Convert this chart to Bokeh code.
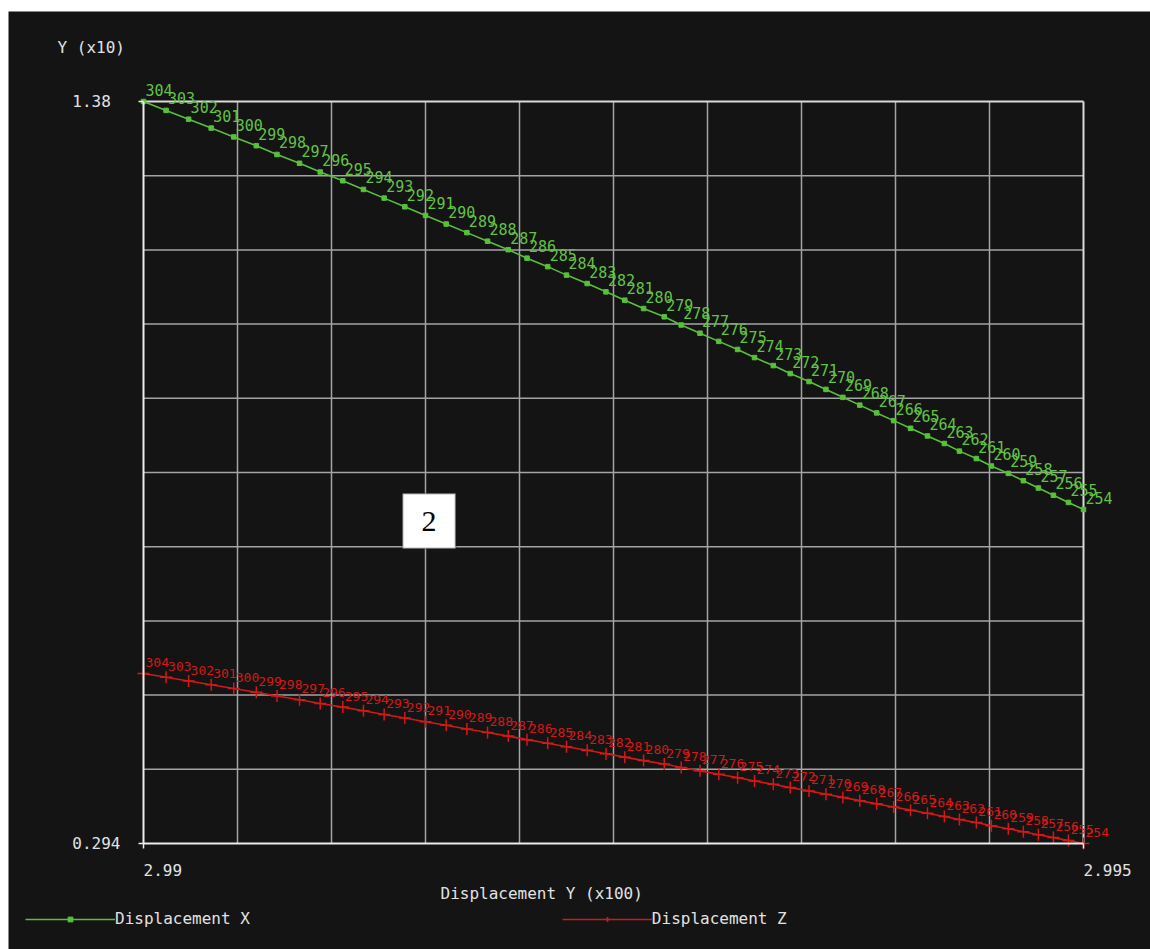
from bokeh.plotting import figure
from bokeh.models import (Range1d, FixedTicker, ColumnDataSource, Label, Legend,
                          LegendItem, BoxAnnotation, Spacer)
from bokeh.layouts import column, row
from bokeh.core.properties import value
from bokeh.embed import file_html
from bokeh.resources import INLINE

# ---------------- data ----------------
disp_y = [2.99000, 2.99012, 2.99024, 2.99036, 2.99048, 2.99060, 2.99071, 2.99083, 2.99094,
          2.99106, 2.99117, 2.99128, 2.99139, 2.99150, 2.99161, 2.99172, 2.99183, 2.99194,
          2.99204, 2.99215, 2.99225, 2.99236, 2.99246, 2.99256, 2.99266, 2.99277, 2.99286,
          2.99296, 2.99306, 2.99316, 2.99325, 2.99335, 2.99344, 2.99354, 2.99363, 2.99372,
          2.99381, 2.99390, 2.99399, 2.99408, 2.99417, 2.99426, 2.99434, 2.99443, 2.99451,
          2.99460, 2.99468, 2.99476, 2.99484, 2.99492, 2.99500]

disp_x = [1.3800, 1.3670, 1.3541, 1.3411, 1.3282, 1.3153, 1.3025, 1.2896, 1.2768, 1.2640,
          1.2513, 1.2386, 1.2259, 1.2133, 1.2007, 1.1881, 1.1756, 1.1631, 1.1507, 1.1383,
          1.1259, 1.1136, 1.1014, 1.0892, 1.0770, 1.0649, 1.0529, 1.0409, 1.0289, 1.0171,
          1.0052, 0.9935, 0.9818, 0.9701, 0.9586, 0.9470, 0.9356, 0.9242, 0.9129, 0.9017,
          0.8905, 0.8794, 0.8683, 0.8574, 0.8465, 0.8357, 0.8250, 0.8143, 0.8037, 0.7932,
          0.7828]

disp_z = [0.5428, 0.5373, 0.5318, 0.5263, 0.5208, 0.5153, 0.5099, 0.5044, 0.4990, 0.4936,
          0.4883, 0.4829, 0.4776, 0.4723, 0.4670, 0.4617, 0.4565, 0.4512, 0.4460, 0.4408,
          0.4357, 0.4306, 0.4254, 0.4204, 0.4153, 0.4103, 0.4053, 0.4003, 0.3953, 0.3904,
          0.3855, 0.3806, 0.3758, 0.3710, 0.3662, 0.3615, 0.3567, 0.3520, 0.3474, 0.3428,
          0.3382, 0.3336, 0.3291, 0.3246, 0.3201, 0.3156, 0.3113, 0.3069, 0.3026, 0.2983,
          0.2940]

point_labels = ["304", "303", "302", "301", "300", "299", "298", "297", "296", "295",
                "294", "293", "292", "291", "290", "289", "288", "287", "286", "285",
                "284", "283", "282", "281", "280", "279", "278", "277", "276", "275",
                "274", "273", "272", "271", "270", "269", "268", "267", "266", "265",
                "264", "263", "262", "261", "260", "259", "258", "257", "256", "255",
                "254"]

x_min, x_max = 2.99, 2.995
y_min, y_max = 0.294, 1.38
x_tick_vals = [2.99, 2.995]
x_tick_text = ["2.99", "2.995"]
y_tick_vals = [0.294, 1.38]
y_tick_text = ["0.294", "1.38"]
x_grid_vals = [2.9905, 2.9910, 2.9915, 2.9920, 2.9925, 2.9930, 2.9935, 2.9940, 2.9945]
y_grid_vals = [0.4026, 0.5112, 0.6198, 0.7284, 0.8370, 0.9456, 1.0542, 1.1628, 1.2714]

series_names = ["Displacement X", "Displacement Z"]
x_title = "Displacement Y (x100)"
y_title = "Y (x10)"
note_text = "2"

# ---------------- styling ----------------
BG = "#141414"
FG = "#e2e2e2"
GRID = "#a4a4a4"
EDGE = "#dadada"
GREEN = "#58c03a"
GREEN_TXT = "#62c244"
RED = "#d41818"
MONO = "DejaVu Sans Mono"
NB = "\u00a0"

source = ColumnDataSource(dict(x=disp_y, gx=disp_x, rz=disp_z, lab=point_labels))

# The frame covers the whole canvas; the plotting box (2.99..2.995, 0.294..1.38)
# sits inside it, with axes pinned at its left and bottom edges.
p = figure(width=1142, height=938, output_backend="svg", toolbar_location=None,
           x_range=Range1d(2.98928191, 2.99535638), y_range=Range1d(0.138848, 1.511733),
           min_border_left=0, min_border_right=0, min_border_top=0, min_border_bottom=0)

p.background_fill_color = BG
p.border_fill_color = BG
p.outline_line_color = None
p.xgrid.visible = False
p.ygrid.visible = False

# grid lines limited to the plotting box (built from the grid tick lists)
vgrid = ColumnDataSource(dict(x=x_grid_vals, y0=[y_min] * len(x_grid_vals),
                              y1=[y_max] * len(x_grid_vals)))
hgrid = ColumnDataSource(dict(y=y_grid_vals, x0=[x_min] * len(y_grid_vals),
                              x1=[x_max] * len(y_grid_vals)))
p.segment(x0="x", x1="x", y0="y0", y1="y1", source=vgrid, line_color=GRID,
          line_width=1.5, level="underlay")
p.segment(x0="x0", x1="x1", y0="y", y1="y", source=hgrid, line_color=GRID,
          line_width=1.5, level="underlay")
# top and right edges of the box
edges = ColumnDataSource(dict(x0=[x_min, x_max], x1=[x_max, x_max],
                              y0=[y_max, y_min], y1=[y_max, y_max]))
p.segment(x0="x0", x1="x1", y0="y0", y1="y1", source=edges, line_color=EDGE,
          line_width=2, level="underlay")

# axes, pinned at the box edges
p.xaxis.fixed_location = y_min
p.yaxis.fixed_location = x_min
p.xaxis.ticker = FixedTicker(ticks=x_tick_vals)
p.xaxis.bounds = (x_min, x_max)
p.xaxis.major_label_overrides = {v: NB * len(t) + t for v, t in zip(x_tick_vals, x_tick_text)}
p.yaxis.ticker = FixedTicker(ticks=y_tick_vals)
p.yaxis.bounds = (y_min, y_max)
p.yaxis.major_label_overrides = {v: t + NB * (5 - len(t)) for v, t in zip(y_tick_vals, y_tick_text)}
for ax in (p.xaxis, p.yaxis):
    ax.axis_line_color = "#ececec"
    ax.axis_line_width = 2
    ax.major_tick_line_color = "#ececec"
    ax.major_tick_line_width = 1.5
    ax.major_tick_out = 5
    ax.major_tick_in = 0
    ax.minor_tick_line_color = None
    ax.major_label_text_color = FG
    ax.major_label_text_font = MONO
    ax.major_label_text_font_size = "16px"
p.xaxis.major_label_standoff = 13
p.yaxis.major_label_standoff = 18

# series
g_line = p.line("x", "gx", source=source, line_color=GREEN, line_width=1.6)
g_pts = p.scatter("x", "gx", source=source, marker="square", size=4.5,
                  fill_color=GREEN, line_color=GREEN)
r_line = p.line("x", "rz", source=source, line_color=RED, line_width=1.6)
r_pts = p.scatter("x", "rz", source=source, marker="cross", size=12,
                  line_color=RED, line_width=1.5)

p.text("x", "gx", text="lab", source=source, x_offset=2, y_offset=-12,
       text_color=GREEN_TXT, text_font=value(MONO), text_font_size="15px",
       text_align="left", text_baseline="alphabetic")
p.text("x", "rz", text="lab", source=source, x_offset=2, y_offset=-11,
       text_color=RED, text_font=value(MONO), text_font_size="13px",
       text_align="left", text_baseline="alphabetic")

# axis captions (screen units from the bottom-left of the canvas)
p.add_layout(Label(x=49, y=902, x_units="screen", y_units="screen", text=y_title,
                   text_color=FG, text_font=MONO, text_font_size="16px",
                   text_baseline="middle"))
p.add_layout(Label(x=432, y=56, x_units="screen", y_units="screen", text=x_title,
                   text_color=FG, text_font=MONO, text_font_size="16px",
                   text_baseline="middle"))

# white note box with "2"
p.add_layout(BoxAnnotation(left=2.991378, right=2.991660, bottom=0.72572, top=0.80623,
                           fill_color="white", fill_alpha=1.0, line_color=BG,
                           line_width=2, level="overlay"))
p.add_layout(Label(x=2.991519, y=0.76598, text=note_text, text_color="black",
                   text_font="Liberation Serif", text_font_size="30px",
                   text_align="center", text_baseline="middle", level="overlay"))

# legend at the bottom
legend = Legend(items=[LegendItem(label=series_names[0], renderers=[g_line, g_pts]),
                       LegendItem(label=series_names[1], renderers=[r_line, r_pts])],
                location=(17, 21), orientation="horizontal")
legend.background_fill_alpha = 0
legend.border_line_color = None
legend.label_text_color = FG
legend.label_text_font = MONO
legend.label_text_font_size = "16px"
legend.glyph_width = 90
legend.glyph_height = 12
legend.label_height = 12
legend.label_standoff = 0
legend.padding = 0
legend.margin = 0
legend.spacing = 312
p.add_layout(legend)

layout = column(Spacer(height=11, width=1150),
                row(Spacer(width=8, height=938), p))

open("out.html", "w").write(file_html(layout, INLINE))
